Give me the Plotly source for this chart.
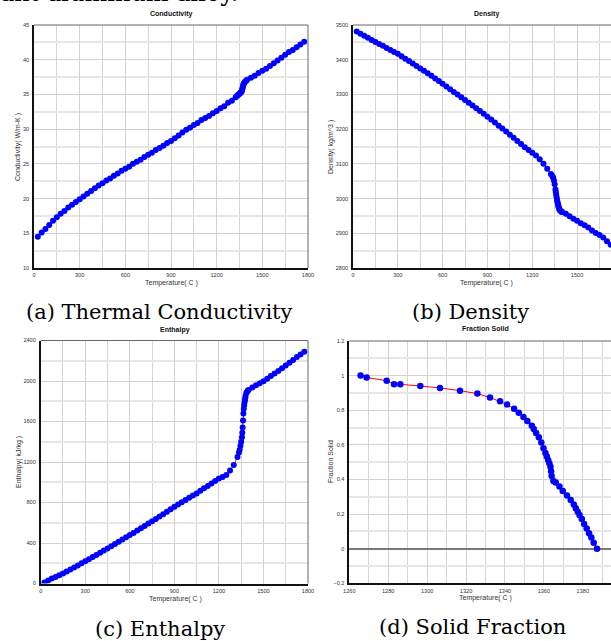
import plotly.graph_objects as go

W, H = 611, 641

# ---------------- data ----------------
T_PROPS = [25, 50, 75, 100, 125, 150, 175, 200, 225, 250, 275, 300, 325, 350, 375, 400,
           425, 450, 475, 500, 525, 550, 575, 600, 625, 650, 675, 700, 725, 750, 775, 800,
           825, 850, 875, 900, 925, 950, 975, 1000, 1025, 1050, 1075, 1100, 1125, 1150,
           1175, 1200, 1225, 1250, 1275, 1300, 1325,
           1335, 1340, 1345, 1350, 1355, 1357.5, 1360, 1362.5, 1365, 1367.5, 1370, 1372.5,
           1375, 1377.5, 1380, 1385, 1390, 1395, 1400,
           1425, 1450, 1475, 1500, 1525, 1550, 1575, 1600, 1625, 1650, 1675, 1700, 1725,
           1750, 1775]

CONDUCTIVITY = [14.5, 15.1, 15.6, 16.2, 16.8, 17.3, 17.8, 18.2, 18.7, 19.1, 19.5, 19.9, 20.3,
                20.7, 21.1, 21.5, 21.9, 22.2, 22.6, 22.9, 23.3, 23.6, 24.0, 24.3, 24.6, 25.0,
                25.3, 25.6, 26.0, 26.3, 26.6, 27.0, 27.3, 27.6, 28.0, 28.3, 28.7, 29.1, 29.5,
                29.9, 30.2, 30.6, 30.9, 31.3, 31.6, 31.9, 32.3, 32.6, 33.0, 33.3, 33.8, 34.1,
                34.6,
                34.8, 34.9, 35.0, 35.1, 35.2, 35.25, 35.3, 35.4, 35.5, 35.7, 35.9, 36.15,
                36.4, 36.5, 36.6, 36.8, 36.9, 37.0, 37.1,
                37.4, 37.7, 38.1, 38.4, 38.7, 39.1, 39.5, 39.9, 40.3, 40.7, 41.1, 41.4, 41.8,
                42.2, 42.6]

DENSITY = [3481, 3475, 3469, 3463, 3457, 3451, 3445, 3440, 3434, 3428, 3422, 3417, 3410,
           3403, 3396, 3389, 3382, 3375, 3368, 3361, 3354, 3346, 3339, 3331, 3323, 3315,
           3307, 3300, 3292, 3284, 3276, 3268, 3260, 3252, 3244, 3236, 3228, 3219, 3210,
           3202, 3193, 3184, 3175, 3166, 3157, 3148, 3140, 3132, 3124, 3113, 3100, 3086,
           3071,
           3064, 3060, 3052, 3041, 3026, 3019, 3012, 3005, 2999, 2993, 2988, 2983,
           2978, 2974, 2970, 2966, 2964, 2962, 2961,
           2956, 2949, 2942, 2936, 2929, 2923, 2917, 2908, 2901, 2895, 2888, 2877, 2867,
           2858, 2850]

ENTHALPY = [10, 30, 50, 65, 82, 100, 118, 138, 158, 178, 200, 220, 240, 261, 282, 303, 325,
            346, 368, 390, 412, 434, 456, 478, 500, 523, 546, 569, 592, 615, 638, 661, 685,
            709, 733, 757, 780, 802, 824, 846, 868, 890, 915, 940, 963, 988, 1012, 1036,
            1053, 1072, 1115, 1170, 1250,
            1295, 1320, 1360, 1400, 1445, 1490, 1540, 1610, 1680, 1725, 1760, 1787,
            1810, 1835, 1855, 1885, 1895, 1905, 1912,
            1935, 1957, 1977, 1998, 2023, 2050, 2075, 2100, 2126, 2153, 2180, 2208, 2236,
            2262, 2288]

T_FS = [1265.8, 1268.9, 1279.2, 1283.0, 1286.2, 1296.5, 1306.6, 1316.9, 1325.8, 1332.3,
        1337.5, 1341.1, 1344.7, 1347.1, 1349.5, 1351.5, 1353.8, 1354.8, 1356.0, 1357.4,
        1358.7, 1359.8, 1360.8, 1361.5, 1362.2, 1362.8, 1363.4, 1363.7, 1364.0, 1364.9,
        1366.1, 1368.0, 1369.7, 1371.9, 1373.8, 1375.4, 1376.4, 1377.4, 1378.3, 1379.5,
        1380.7, 1382.0, 1383.2, 1384.4, 1385.6, 1387.3]

FRACTION_SOLID = [1.0, 0.989, 0.971, 0.950, 0.950, 0.940, 0.929, 0.913, 0.896, 0.873,
                  0.852, 0.833, 0.808, 0.786, 0.761, 0.738, 0.711, 0.692, 0.669, 0.644,
                  0.613, 0.580, 0.553, 0.532, 0.513, 0.493, 0.474, 0.447, 0.420, 0.391,
                  0.382, 0.359, 0.334, 0.308, 0.281, 0.255, 0.233, 0.214, 0.195, 0.172,
                  0.143, 0.116, 0.089, 0.064, 0.035, 0.0]

PANEL_TITLES = ["Conductivity", "Density", "Enthalpy", "Fraction Solid"]
Y_TITLES = ["Conductivity( W/m-K )", "Density( kg/m^3 )", "Enthalpy( kJ/kg )", "Fraction Solid"]
X_TITLE = "Temperature( C )"
CAPTIONS = ["(a) Thermal Conductivity", "(b) Density", "(c) Enthalpy", "(d) Solid Fraction"]
HEADER_TEXT = "ant aluminum alloy."

# ---------------- layout helpers (pixel -> paper) ----------------
def fx(px):
    return px / W


def fy(py):
    return 1 - py / H


SANS = "Liberation Sans, Arial, sans-serif"
SERIF = "DejaVu Serif, serif"
BLUE = "#0000FF"
RED = "#FF0000"


def base_axis(**kw):
    d = dict(showline=True, linecolor="#111111", linewidth=1.5, mirror=False,
             ticks="", showgrid=True, gridcolor="#d2d2d2", gridwidth=1,
             zeroline=False, tickfont=dict(family=SANS, size=5.6, color="#333333"),
             fixedrange=True, layer="above traces", automargin=False)
    d.update(kw)
    return d


def minor(dt, color="#e2e2e2", width=1):
    return dict(dtick=dt, showgrid=True, gridcolor=color, gridwidth=width, ticks="")


fig = go.Figure()

series = [
    (T_PROPS, CONDUCTIVITY, "x", "y", 6),
    (T_PROPS, DENSITY, "x2", "y2", 6),
    (T_PROPS, ENTHALPY, "x3", "y3", 6),
    (T_FS, FRACTION_SOLID, "x4", "y4", 6.5),
]
for xs, ys, xa, ya, ms in series:
    fig.add_trace(go.Scatter(x=xs, y=ys, xaxis=xa, yaxis=ya, mode="lines+markers",
                             line=dict(color=RED, width=1),
                             marker=dict(color=BLUE, size=ms, line=dict(width=0)),
                             showlegend=False, hoverinfo="skip", cliponaxis=True))

layout = dict(
    width=W, height=H, margin=dict(l=0, r=0, t=0, b=0, autoexpand=False),
    paper_bgcolor="white", plot_bgcolor="white", showlegend=False,
    # (a) conductivity
    xaxis=base_axis(domain=[fx(34), fx(308)], range=[0, 1800], dtick=300, anchor="y",
                    minor=minor(150, "#d6d6d6")),
    yaxis=base_axis(domain=[fy(268), fy(25)], range=[10, 45], dtick=5, anchor="x",
                    minor=minor(2.5, "#e6e6e6", 2)),
    # (b) density
    xaxis2=base_axis(domain=[fx(353), 1.0], range=[0, 1727], dtick=300, anchor="y2",
                     minor=minor(150, "#d6d6d6")),
    yaxis2=base_axis(domain=[fy(268), fy(25)], range=[2800, 3500], dtick=100, anchor="x2",
                     minor=minor(50, "#e6e6e6", 2)),
    # (c) enthalpy
    xaxis3=base_axis(domain=[fx(40.7), fx(308)], range=[0, 1800], dtick=300, anchor="y3",
                     minor=minor(150, "#d6d6d6")),
    yaxis3=base_axis(domain=[fy(583.5), fy(340.5)], range=[0, 2400], dtick=400, anchor="x3",
                     minor=minor(200, "#e6e6e6", 2)),
    # (d) fraction solid
    xaxis4=base_axis(domain=[fx(349.3), 1.0], range=[1260, 1394.5], dtick=20, anchor="y4",
                     minor=minor(10, "#d6d6d6")),
    yaxis4=base_axis(domain=[fy(583.3), fy(341)], range=[-0.2, 1.2], dtick=0.2, anchor="x4",
                     minor=minor(0.1, "#e6e6e6", 2), zeroline=True,
                     zerolinecolor="#7a7a7a", zerolinewidth=1.5),
)
fig.update_layout(**layout)
fig.update_yaxes(ticklabelstandoff=2)
fig.update_xaxes(ticklabelstandoff=1)

# gray top / right frame lines
shapes = []
for xa, ya, right in [("x", "y", True), ("x2", "y2", False), ("x3", "y3", True), ("x4", "y4", False)]:
    shapes.append(dict(type="line", xref=f"{xa} domain", yref=f"{ya} domain",
                       x0=0, x1=1, y0=1, y1=1, line=dict(color="#666666", width=1)))
    if right:
        shapes.append(dict(type="line", xref=f"{xa} domain", yref=f"{ya} domain",
                           x0=1, x1=1, y0=0, y1=1, line=dict(color="#666666", width=1)))
fig.update_layout(shapes=shapes)

ann = []


def text(x, y, s, size, family=SANS, color="#111111", angle=0, bold=False,
         xanchor="center", yanchor="middle"):
    ann.append(dict(xref="paper", yref="paper", x=fx(x), y=fy(y), text=(f"<b>{s}</b>" if bold else s),
                    showarrow=False, textangle=angle, xanchor=xanchor, yanchor=yanchor,
                    font=dict(family=family, size=size, color=color)))


# panel titles
text(171, 14, PANEL_TITLES[0], 7, bold=True)
text(487, 14, PANEL_TITLES[1], 7, bold=True)
text(175, 330, PANEL_TITLES[2], 7, bold=True)
text(485, 328, PANEL_TITLES[3], 7, bold=True)

# axis titles
text(18, 147, Y_TITLES[0], 7, angle=-90, color="#333333")
text(331, 147, Y_TITLES[1], 7, angle=-90, color="#333333")
text(19, 462, Y_TITLES[2], 7, angle=-90, color="#333333")
text(330, 462, Y_TITLES[3], 7, angle=-90, color="#333333")
text(171, 283, X_TITLE, 7, color="#333333")
text(487, 283, X_TITLE, 7, color="#333333")
text(175, 599, X_TITLE, 7, color="#333333")
text(485, 598, X_TITLE, 7, color="#333333")

# captions
text(159, 312, CAPTIONS[0], 21, family=SERIF, color="#000000")
text(470, 312, CAPTIONS[1], 21, family=SERIF, color="#000000")
text(160, 629, CAPTIONS[2], 21, family=SERIF, color="#000000")
text(472, 627, CAPTIONS[3], 21, family=SERIF, color="#000000")

# clipped header text from the page above
text(240, 9, HEADER_TEXT, 24, family=SERIF, color="#000000", xanchor="right", yanchor="bottom")

fig.update_layout(annotations=ann)
fig.write_html("out.html")
